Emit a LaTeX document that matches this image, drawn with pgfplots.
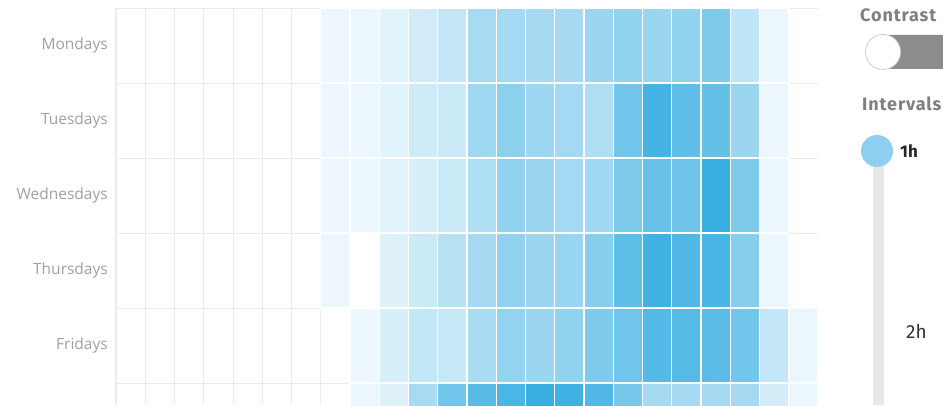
\documentclass[border=0pt]{standalone}
\usepackage{pgfplots}
\pgfplotsset{compat=1.18}
\usepackage{fontspec}
\setmainfont{Open Sans}
\newfontfamily\fira{Fira Sans}
\newfontfamily\firals{Fira Sans}[LetterSpace=5]
\definecolor{lbl}{HTML}{A0A0A0}
\definecolor{gridc}{HTML}{EBEBEB}
\definecolor{panelg}{HTML}{7F7F7F}
\definecolor{pill}{HTML}{8C8C8C}
\definecolor{track}{HTML}{E8E8E8}
\definecolor{knob}{HTML}{8ECFF0}
\begin{document}
\begin{tikzpicture}[x=1pt,y=1pt]
\path[use as bounding box] (0,0) rectangle (943,405);
\clip (0,0) rectangle (943,405);
\begin{axis}[
  at={(116pt,0pt)}, anchor=south west,
  scale only axis, width=702pt, height=397pt,
  xmin=-0.5, xmax=23.5, ymin=-0.5, ymax=4.793,
  y dir=reverse,
  axis line style={draw=none},
  major tick length=0pt, minor tick length=0pt,
  xtick={-0.5,0.5,...,22.5},
  xticklabels={},
  xmajorgrids=true,
  major grid style={draw=gridc, line width=1pt},
  ytick={0,1,2,3,4},
  yticklabels={Mondays,Tuesdays,Wednesdays,Thursdays,Fridays},
  minor ytick={-0.5,0.5,...,5.5},
  minor grid style={draw=gridc, line width=1pt},
  yminorgrids=true,
  yticklabel style={font=\fontsize{15.5}{16}\selectfont, text=lbl, inner sep=0pt, xshift=-8pt},
  colormap={blu}{rgb255=(255,255,255) rgb255=(56,174,226)},
  point meta min=0, point meta max=10,
  unbounded coords=jump,
]
\addplot[matrix plot*, mesh/cols=24, draw=white, line width=1.3pt, point meta=explicit]
 table[row sep=\\, meta=v] {
x y v\\
0 0 nan\\ 1 0 nan\\ 2 0 nan\\ 3 0 nan\\ 4 0 nan\\ 5 0 nan\\ 6 0 nan\\ 7 0 1\\ 8 0 1\\ 9 0 1.5\\ 10 0 2.3\\ 11 0 3\\ 12 0 4.4\\ 13 0 4.6\\ 14 0 4.5\\ 15 0 4.5\\ 16 0 5\\ 17 0 5.5\\ 18 0 5\\ 19 0 5.5\\ 20 0 6.5\\ 21 0 3.2\\ 22 0 1\\ 23 0 nan\\
0 1 nan\\ 1 1 nan\\ 2 1 nan\\ 3 1 nan\\ 4 1 nan\\ 5 1 nan\\ 6 1 nan\\ 7 1 1\\ 8 1 1\\ 9 1 1.5\\ 10 1 2.4\\ 11 1 2.6\\ 12 1 4.8\\ 13 1 5.7\\ 14 1 4.9\\ 15 1 4.6\\ 16 1 4\\ 17 1 7\\ 18 1 9.3\\ 19 1 8\\ 20 1 7.7\\ 21 1 5\\ 22 1 1\\ 23 1 nan\\
0 2 nan\\ 1 2 nan\\ 2 2 nan\\ 3 2 nan\\ 4 2 nan\\ 5 2 nan\\ 6 2 nan\\ 7 2 1\\ 8 2 1\\ 9 2 1.5\\ 10 2 2\\ 11 2 2.6\\ 12 2 4.1\\ 13 2 5.5\\ 14 2 5\\ 15 2 4.6\\ 16 2 4.8\\ 17 2 6.5\\ 18 2 7.6\\ 19 2 7.3\\ 20 2 10\\ 21 2 6.5\\ 22 2 1\\ 23 2 nan\\
0 3 nan\\ 1 3 nan\\ 2 3 nan\\ 3 3 nan\\ 4 3 nan\\ 5 3 nan\\ 6 3 nan\\ 7 3 1\\ 8 3 nan\\ 9 3 1.6\\ 10 3 2.6\\ 11 3 3.6\\ 12 3 4.5\\ 13 3 5.6\\ 14 3 5\\ 15 3 5.2\\ 16 3 6\\ 17 3 8\\ 18 3 9.5\\ 19 3 8.7\\ 20 3 9.1\\ 21 3 6\\ 22 3 1\\ 23 3 nan\\
0 4 nan\\ 1 4 nan\\ 2 4 nan\\ 3 4 nan\\ 4 4 nan\\ 5 4 nan\\ 6 4 nan\\ 7 4 nan\\ 8 4 0.9\\ 9 4 2\\ 10 4 3.1\\ 11 4 2.8\\ 12 4 4.3\\ 13 4 5.4\\ 14 4 5\\ 15 4 5.5\\ 16 4 6.4\\ 17 4 7.1\\ 18 4 8.6\\ 19 4 8.5\\ 20 4 8.2\\ 21 4 7\\ 22 4 3\\ 23 4 1\\
0 5 nan\\ 1 5 nan\\ 2 5 nan\\ 3 5 nan\\ 4 5 nan\\ 5 5 nan\\ 6 5 nan\\ 7 5 nan\\ 8 5 1\\ 9 5 1.6\\ 10 5 4.4\\ 11 5 7\\ 12 5 8.3\\ 13 5 9\\ 14 5 10\\ 15 5 9.6\\ 16 5 8.7\\ 17 5 6.8\\ 18 5 4.5\\ 19 5 4.5\\ 20 5 4.5\\ 21 5 4.5\\ 22 5 2.2\\ 23 5 1\\
};
\end{axis}
% side panel
\node[anchor=west, inner sep=0pt, text=panelg, font=\firals\bfseries\fontsize{18}{18}\selectfont] at (860,390) {Contrast};
\fill[pill, rounded corners=17pt] (872,336) rectangle (980,370);
\fill[white, draw=gray!40, line width=0.8pt] (883,353) circle (17.5);
\node[anchor=west, inner sep=0pt, text=panelg, font=\firals\bfseries\fontsize{18}{18}\selectfont] at (862,301) {Intervals};
\fill[track] (872.5,0) rectangle (883.5,254);
\fill[knob] (877,254) circle (16);
\node[anchor=west, inner sep=0pt, text=black!85, font=\fira\bfseries\fontsize{17}{17}\selectfont] at (900,254) {1h};
\node[anchor=west, inner sep=0pt, text=black!80, font=\fira\fontsize{19}{19}\selectfont] at (906,74) {2h};
\end{tikzpicture}
\end{document}
